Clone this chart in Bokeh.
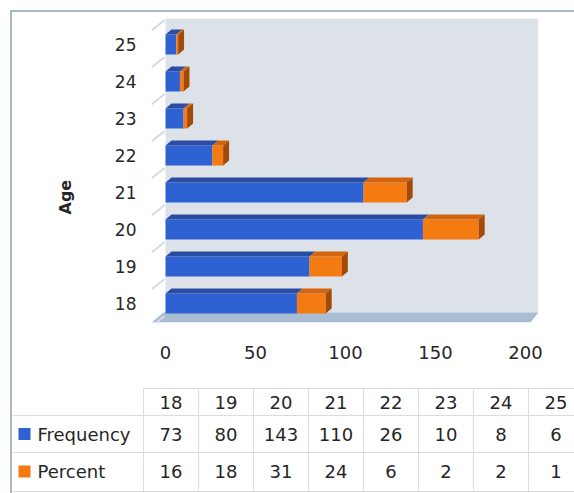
import numpy as np
from bokeh.plotting import figure
from bokeh.models import Range1d, FixedTicker, Title
from bokeh.layouts import column
from bokeh.embed import file_html
from bokeh.resources import INLINE
from bokeh.core.properties import value

# ---- data ----
ages = ["18", "19", "20", "21", "22", "23", "24", "25"]
frequency = [73, 80, 143, 110, 26, 10, 8, 6]
percent = [16, 18, 31, 24, 6, 2, 2, 1]
x_ticks = [0, 50, 100, 150, 200]
series_names = ["Frequency", "Percent"]

# ---- styles ----
FONT = "DejaVu Sans"
TXT = "#262626"
BLUE, BLUE_TOP = "#2e62d2", "#2a4da3"
ORANGE, ORANGE_TOP, ORANGE_SIDE = "#f47a12", "#d4650e", "#a34a08"
WALL, FLOOR, BORDER, GRIDC = "#dfe4eb", "#a8bcd2", "#aab7c7", "#d6dde6"

OFF = 12                      # page offset of the bordered box
W = 574 - OFF
H1, H2 = 383 - OFF, 110
X0, X1 = -7.8, 207.2
Y0, Y1 = -0.514, 7.703
DX, DY, HALF, FL = 3.3, 0.135, 0.27, 0.27

idx = np.arange(len(ages), dtype=float)
freq = np.array(frequency, float)
pct = np.array(percent, float)
tot = freq + pct

p = figure(width=W, height=H1, x_range=Range1d(X0, X1), y_range=Range1d(Y0, Y1),
           output_backend="svg", toolbar_location=None,
           min_border_left=151 - OFF, min_border_right=36, min_border_top=18 - OFF,
           min_border_bottom=61, outline_line_color=None)
p.frame_align = False
p.xgrid.visible = False
p.ygrid.visible = False

# back wall
p.quad(left=0, right=X1, bottom=Y0 + FL, top=Y1, fill_color=WALL, line_color=None,
       hatch_pattern="x", hatch_color="#d2d9e3", hatch_scale=4, hatch_weight=0.6, hatch_alpha=0.7)
# floor
p.patch(x=[X0, X1 - 4.4, X1, -1.1], y=[Y0, Y0, Y0 + FL, Y0 + FL], fill_color=FLOOR, line_color=None)
# side wall marks
b = np.arange(len(ages) + 1) - 0.5
p.segment(x0=np.full(b.shape, X0), y0=b - 0.12, x1=np.full(b.shape, -0.5), y1=b + 0.16,
          line_color="#d5dbe3", line_width=2)

# bars: front faces
p.quad(left=0, right=freq, bottom=idx - HALF, top=idx + HALF, fill_color=BLUE, line_color=None)
p.quad(left=freq, right=tot, bottom=idx - HALF, top=idx + HALF, fill_color=ORANGE, line_color=None)
# top faces
p.patches(xs=[[0, f, f + DX, DX] for f in freq],
          ys=[[i + HALF, i + HALF, i + HALF + DY, i + HALF + DY] for i in idx],
          fill_color=BLUE_TOP, line_color=None)
p.patches(xs=[[f, t, t + DX, f + DX] for f, t in zip(freq, tot)],
          ys=[[i + HALF, i + HALF, i + HALF + DY, i + HALF + DY] for i in idx],
          fill_color=ORANGE_TOP, line_color=None)
# side faces
p.patches(xs=[[t, t + DX, t + DX, t] for t in tot],
          ys=[[i - HALF, i - HALF + DY, i + HALF + DY, i + HALF] for i in idx],
          fill_color=ORANGE_SIDE, line_color=None)

# axes
p.xaxis.ticker = FixedTicker(ticks=x_ticks)
p.yaxis.ticker = FixedTicker(ticks=list(range(len(ages))))
p.yaxis.major_label_overrides = {i: a for i, a in enumerate(ages)}
for ax in (p.xaxis[0], p.yaxis[0]):
    ax.axis_line_color = None
    ax.major_tick_line_color = None
    ax.minor_tick_line_color = None
    ax.major_label_text_font = FONT
    ax.major_label_text_color = TXT
p.xaxis.major_label_text_font_size = "18px"
p.xaxis.major_label_standoff = 17
p.yaxis.major_label_text_font_size = "17px"
p.yaxis.major_label_standoff = 9

p.add_layout(Title(text="Age", align="left", offset=108, standoff=74,
                   text_font=FONT, text_font_size="16px", text_font_style="bold",
                   text_color=TXT), "left")

# ---- data table ----
t = figure(width=W, height=H2, x_range=Range1d(OFF, 574), y_range=Range1d(H2, 0),
           output_backend="svg", toolbar_location=None, min_border=0,
           outline_line_color=None, x_axis_location=None, y_axis_location=None)
t.frame_align = False
for g in t.grid:
    g.visible = False

COL0, COLW = 143, 55
ROW_LINES = [5, 32, 69, 108]
ROW_TXT = [18.5, 50.5, 88.0]
cols = COL0 + COLW * np.arange(len(ages) + 1)
centers = COL0 + COLW * (np.arange(len(ages)) + 0.5)

t.segment(x0=[COL0, OFF, OFF, OFF], y0=ROW_LINES, x1=[574] * 4, y1=ROW_LINES,
          line_color=GRIDC, line_width=1)
t.segment(x0=cols, y0=np.full(cols.shape, ROW_LINES[0]), x1=cols,
          y1=np.full(cols.shape, ROW_LINES[-1]), line_color=GRIDC, line_width=1)

t.text(x=centers, y=[ROW_TXT[0]] * len(ages), text=ages, text_align="center",
       text_baseline="middle", text_font=value(FONT), text_font_size="18px", text_color=TXT)
t.text(x=centers, y=[ROW_TXT[1]] * len(ages), text=[str(v) for v in frequency],
       text_align="center", text_baseline="middle", text_font=value(FONT),
       text_font_size="18px", text_color=TXT)
t.text(x=centers, y=[ROW_TXT[2]] * len(ages), text=[str(v) for v in percent],
       text_align="center", text_baseline="middle", text_font=value(FONT),
       text_font_size="18px", text_color=TXT)
t.rect(x=[24, 24], y=ROW_TXT[1:], width=12, height=12, fill_color=[BLUE, ORANGE], line_color=None)
t.text(x=[37, 37], y=ROW_TXT[1:], text=series_names, text_align="left", text_baseline="middle",
       text_font=value(FONT), text_font_size="18px", text_color=TXT)

layout = column(p, t, spacing=0, margin=(10, 0, 0, 10),
                styles={"border-top": f"2px solid {BORDER}", "border-left": f"2px solid {BORDER}"})
open("out.html", "w").write(file_html(layout, INLINE))
